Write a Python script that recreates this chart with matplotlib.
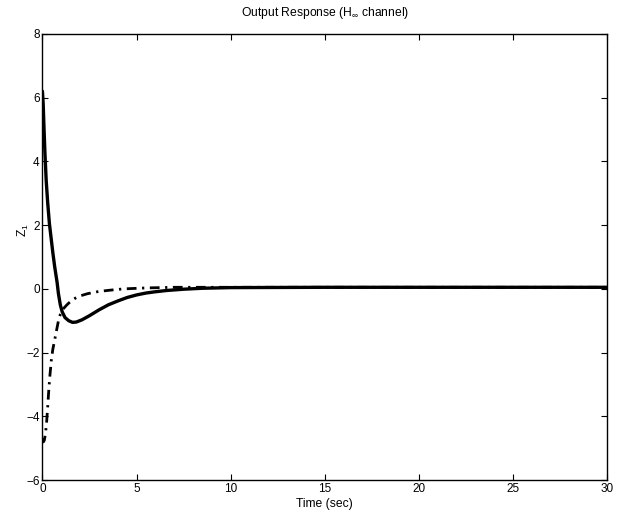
import matplotlib
matplotlib.use('Agg')
import matplotlib.pyplot as plt

# Respuesta de salida (canal H-infinito)
t_solida = [0, 0.04, 0.08, 0.13, 0.2, 0.28, 0.37, 0.46, 0.55, 0.65, 0.78, 0.85,
            0.95, 1.05, 1.2, 1.4, 1.6, 1.8, 2.1, 2.5, 3.0, 3.5, 4.0, 4.5, 5.0,
            5.5, 6.0, 6.6, 7.5, 8.5, 10, 15, 20, 30]
z_solida = [6.2, 5.8, 5.1, 4.3, 3.4, 2.7, 2.05, 1.6, 1.15, 0.7, 0.2, -0.15,
            -0.5, -0.72, -0.9, -1.0, -1.05, -1.04, -0.97, -0.84, -0.66, -0.5, -0.38, -0.27, -0.19,
            -0.13, -0.09, -0.05, -0.01, 0.02, 0.04, 0.05, 0.05, 0.05]

t_punto = [0, 0.05, 0.1, 0.16, 0.22, 0.28, 0.34, 0.4, 0.47, 0.55, 0.65, 0.75,
           0.85, 0.95, 1.1, 1.3, 1.5, 1.75, 2.0, 2.4, 3.0, 3.6, 4.3, 5.5, 7, 10, 30]
z_punto = [-4.7, -4.8, -4.75, -4.55, -4.2, -3.7, -3.15, -2.7, -2.25, -1.9, -1.6, -1.3,
           -1.0, -0.8, -0.63, -0.5, -0.39, -0.29, -0.22, -0.15, -0.08, -0.04, 0.0, 0.03, 0.05, 0.05, 0.05]

xticks = [0, 5, 10, 15, 20, 25, 30]
yticks = [-6, -4, -2, 0, 2, 4, 6, 8]

plt.rcParams['font.family'] = ['Liberation Sans', 'DejaVu Sans']
plt.rcParams['mathtext.fontset'] = 'custom'
plt.rcParams['mathtext.rm'] = 'Liberation Sans'
plt.rcParams['mathtext.it'] = 'Liberation Sans'

fig = plt.figure(figsize=(6.24, 5.13), dpi=100)
ax = fig.add_axes([0.068, 0.064, 0.905, 0.870])

ax.plot(t_solida, z_solida, color='black', linewidth=2.4,
        solid_capstyle='round', solid_joinstyle='round')
ax.plot(t_punto, z_punto, color='black', linewidth=2.0,
        linestyle=(0, (3.5, 2, 0.8, 2)))

ax.set_xlim(0, 30)
ax.set_ylim(-6, 8)
ax.set_xticks(xticks)
ax.set_yticks(yticks)
ax.tick_params(direction='in', length=4, width=0.8, top=True, right=True,
               labelsize=8.5, pad=2)
for s in ax.spines.values():
    s.set_linewidth(1.0)

ax.set_title(r'Output Response (H$_{\infty}$ channel)', fontsize=8.7, pad=13)
ax.set_xlabel('Time (sec)', fontsize=8.7, labelpad=2)
ax.set_ylabel(r'Z$_1$', fontsize=8.7)
ax.yaxis.set_label_coords(-0.02, 0.56)

plt.savefig('out.png', dpi=100)
plt.close()
